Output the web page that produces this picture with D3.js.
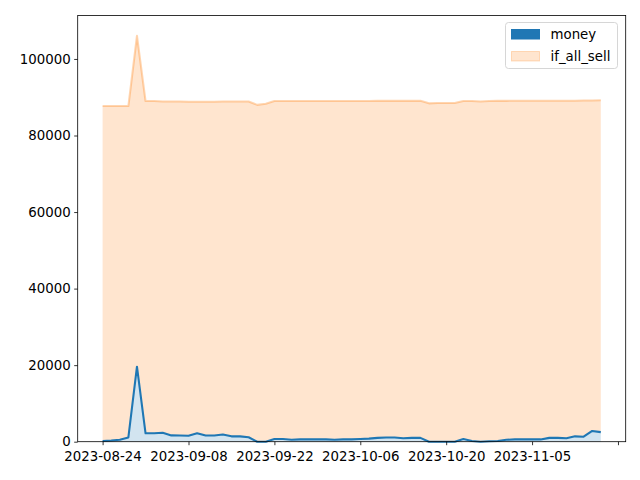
<!DOCTYPE html>
<html>
<head>
<meta charset="utf-8">
<script src="https://cdn.jsdelivr.net/npm/d3@7"></script>
<style>
  html, body { margin: 0; padding: 0; background: #fff; }
  svg { display: block; font-family: "DejaVu Sans", sans-serif; }
</style>
</head>
<body>
<svg id="chart" width="640" height="480"></svg>
<script>
// ---- data ----
const seriesNames = ["money", "if_all_sell"];
const money = [200, 300, 500, 1100, 19600, 2200, 2200, 2350, 1650, 1600,
  1550, 2200, 1600, 1600, 1900, 1400, 1400, 1150, 0, 0,
  700, 700, 500, 600, 600, 600, 600, 500, 600, 600,
  700, 800, 1000, 1100, 1100, 900, 1000, 1000, 0, 0,
  0, 0, 700, 200, 0, 100, 200, 500, 600, 600,
  600, 600, 1000, 1000, 900, 1400, 1300, 2800, 2500];
const totalTop = [87700, 87700, 87700, 87700, 106050, 89000, 89000, 88900, 88900, 88900,
  88800, 88800, 88800, 88800, 88900, 88900, 88900, 88900, 88000, 88300,
  89000, 89000, 89000, 89000, 89000, 89000, 89000, 89000, 89000, 89000,
  89000, 89000, 89050, 89050, 89050, 89050, 89050, 89050, 88400, 88500,
  88500, 88500, 89000, 89000, 88900, 89000, 89050, 89050, 89100, 89100,
  89100, 89100, 89100, 89100, 89100, 89100, 89150, 89150, 89200];
const ifAllSell = totalTop.map((t, i) => t - money[i]);
const tickIndex = [0, 10, 20, 30, 40, 50, 60];
const tickLabels = ["2023-08-24", "2023-09-08", "2023-09-22", "2023-10-06", "2023-10-20", "2023-11-05", ""];
const yTicks = [0, 20000, 40000, 60000, 80000, 100000];

// ---- layout ----
const svg = d3.select("#chart");
const L = 77.7, R = 625.7, T = 15.5, B = 441.7;
const n = money.length;
const pad = (n - 1) * 0.05;
const x = d3.scaleLinear().domain([-pad, n - 1 + pad]).range([L, R]);
const yMax = d3.max(totalTop) * 1.05;
const y = d3.scaleLinear().domain([0, yMax]).range([B, T]);

const rows = money.map((m, i) => ({ i, money: m, if_all_sell: ifAllSell[i] }));
const stacked = d3.stack().keys(seriesNames)(rows);

const blue = "#1f77b4", orange = "#ff7f0e";
const area = d3.area().x((d, i) => x(i)).y0(d => y(d[0])).y1(d => y(d[1]));
const line = d3.line().x((d, i) => x(i)).y(d => y(d[1]));

const g = svg.append("g");
// orange (stacked on top)
g.append("path").datum(stacked[1]).attr("d", area)
  .attr("fill", orange).attr("fill-opacity", 0.2).attr("stroke", "none");
g.append("path").datum(stacked[1]).attr("d", line)
  .attr("fill", "none").attr("stroke", orange).attr("stroke-opacity", 0.32)
  .attr("stroke-width", 2.08).attr("stroke-linejoin", "round");
// blue
g.append("path").datum(stacked[0]).attr("d", area)
  .attr("fill", blue).attr("fill-opacity", 0.2).attr("stroke", "none");
g.append("path").datum(stacked[0]).attr("d", line)
  .attr("fill", "none").attr("stroke", blue)
  .attr("stroke-width", 2.08).attr("stroke-linejoin", "round");

// axes
const xAxis = d3.axisBottom(x).tickValues(tickIndex)
  .tickFormat((d, i) => tickLabels[i]).tickSize(3.5).tickPadding(3.5);
const yAxis = d3.axisLeft(y).tickValues(yTicks)
  .tickFormat(d3.format("d")).tickSize(3.5).tickPadding(3.5);

const gx = svg.append("g").attr("transform", `translate(0,${B})`).call(xAxis);
const gy = svg.append("g").attr("transform", `translate(${L},0)`).call(yAxis);
[gx, gy].forEach(a => {
  a.select(".domain").remove();
  a.selectAll(".tick line").attr("stroke", "#000").attr("stroke-width", 0.8);
  a.selectAll(".tick text").attr("fill", "#000").attr("font-size", "13.33px")
    .attr("font-family", "DejaVu Sans, sans-serif");
});
gx.selectAll(".tick text").attr("dy", "0.95em");

// frame
svg.append("rect").attr("x", L).attr("y", T).attr("width", R - L).attr("height", B - T)
  .attr("fill", "none").attr("stroke", "#000").attr("stroke-width", 0.8);

// legend
const lg = svg.append("g").attr("transform", "translate(505.5,22.5)");
lg.append("rect").attr("width", 112).attr("height", 46).attr("rx", 3)
  .attr("fill", "#fff").attr("fill-opacity", 0.8).attr("stroke", "#cccccc").attr("stroke-width", 0.8);
const items = [
  { name: seriesNames[0], fill: blue, fo: 1, stroke: blue, so: 1 },
  { name: seriesNames[1], fill: orange, fo: 0.2, stroke: orange, so: 0.25 }
];
items.forEach((it, k) => {
  const yy = 7 + k * 22;
  lg.append("rect").attr("x", 6).attr("y", yy).attr("width", 28).attr("height", 9.5)
    .attr("fill", it.fill).attr("fill-opacity", it.fo)
    .attr("stroke", it.stroke).attr("stroke-opacity", it.so).attr("stroke-width", 1);
  lg.append("text").attr("x", 45).attr("y", yy + 9.5).attr("font-size", "13.33px")
    .attr("fill", "#000").text(it.name);
});
</script>
</body>
</html>
